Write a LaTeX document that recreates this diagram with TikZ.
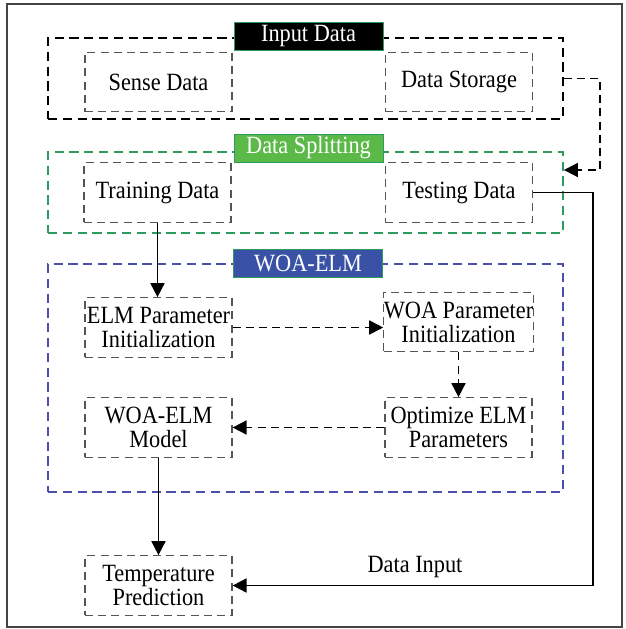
\documentclass[tikz,border=0pt]{standalone}
\usepackage{fontspec}
\setmainfont[FakeStretch=0.9]{Liberation Serif}
\usetikzlibrary{arrows.meta,calc}
\definecolor{grpgreen}{HTML}{2E9B5E}
\definecolor{lblgreen}{HTML}{5BB947}
\definecolor{grpblue}{HTML}{4B4FAE}
\definecolor{lblblue}{HTML}{3A52A6}
\definecolor{boxgray}{HTML}{555555}
\definecolor{framegray}{HTML}{444444}
\tikzset{
  grp/.style={draw, line width=0.9pt, dash pattern=on 4.6pt off 2.8pt, minimum width=257.5pt, inner sep=0pt},
  lbl/.style={draw=grpgreen, line width=0.4pt, text=white, minimum width=74.5pt, minimum height=14pt, inner sep=0pt},
  stepbox/.style={draw=boxgray, line width=0.6pt, dash pattern=on 4pt off 2.6pt, minimum width=73.5pt, minimum height=29.75pt, inner sep=0pt, align=center},
  conn/.style={line width=0.85pt, -{Triangle[length=7pt,width=7pt]}},
  dconn/.style={conn, dash pattern=on 4pt off 2.6pt},
  txt/.style={font=\fontsize{12.4}{12}\selectfont}
}
\begin{document}
\begin{tikzpicture}[x=0.5pt,y=-0.5pt, every node/.append style={txt}]
\useasboundingbox (0,0) rectangle (626,629);
\fill[white] (0,0) rectangle (626,629);
\draw[framegray, line width=0.6pt] (7,4) rectangle (622,627);
% groups
\node[grp, draw=black, minimum height=40.5pt] (input) at (305.5,78.5) {};
\node[grp, draw=grpgreen, minimum height=40.5pt] (split) at (305.5,192.5) {};
\node[grp, draw=grpblue, minimum height=114pt] (woa) at (305.5,378) {};
% labels
\node[lbl, fill=black] (inputlbl) at (308.5,36.5) {Input Data};
\node[lbl, fill=lblgreen] (splitlbl) at (308.5,148) {Data Splitting};
\node[lbl, fill=lblblue] (woalbl) at (308,263) {WOA-ELM};
% steps
\node[stepbox] (sense) at (158.5,82) {Sense Data};
\node[stepbox] (storage) at (459,82) {Data Storage};
\node[stepbox] (training) at (157.5,192.5) {Training Data};
\node[stepbox] (testing) at (459,192.5) {Testing Data};
\node[stepbox] (elm) at (158.5,327.5) {ELM Parameter\\Initialization};
\node[stepbox] (woap) at (458.5,322) {WOA Parameter\\Initialization};
\node[stepbox] (model) at (158.5,427.5) {WOA-ELM\\Model};
\node[stepbox] (opt) at (458.5,427.5) {Optimize ELM\\Parameters};
\node[stepbox] (temp) at (158.5,585.5) {Temperature\\Prediction};
\node (datainput) at (415,567) {Data Input};
\coordinate (turnA) at (600,78.5);
\coordinate (hitA) at (0,170);
\coordinate (turnB) at (593,192.5);
% connectors
\draw[dconn] (input.east) -- (turnA) |- (split.east |- hitA);
\draw[conn] (training.south) -- (training.south |- elm.north);
\draw[dconn] (elm.east) -- (elm.east -| woap.west);
\draw[dconn] (woap.south) -- (woap.south |- opt.north);
\draw[dconn] (opt.west) -- (model.east);
\draw[conn] (model.south) -- (temp.north);
\draw[conn] (testing.east) -- (turnB) |- (temp.east);
\end{tikzpicture}
\end{document}
